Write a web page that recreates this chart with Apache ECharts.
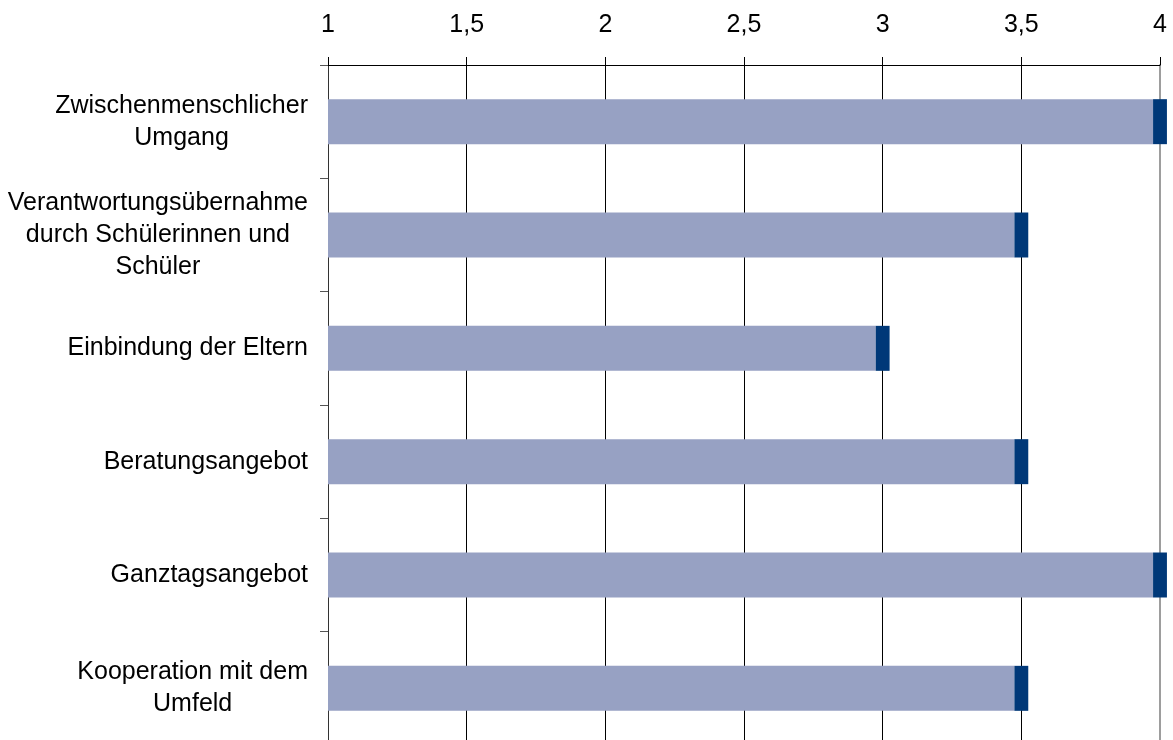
<!DOCTYPE html>
<html>
<head>
<meta charset="utf-8">
<script src="https://cdn.jsdelivr.net/npm/echarts@6/dist/echarts.min.js"></script>
<style>
  html, body { margin: 0; padding: 0; background: #fff; }
  #chart { width: 1173px; height: 740px; }
</style>
</head>
<body>
<div id="chart"></div>
<script>
// Survey areas (rows, top to bottom)
const categories = [
  'Zwischenmenschlicher\nUmgang',
  'Verantwortungsübernahme\ndurch Schülerinnen und\nSchüler',
  'Einbindung der Eltern',
  'Beratungsangebot',
  'Ganztagsangebot',
  'Kooperation mit dem\nUmfeld'
];

// Mean rating per area (scale 1 to 4)
const values = [4, 3.5, 3, 3.5, 4, 3.5];

// Scale ticks
const tickValues = [1, 1.5, 2, 2.5, 3, 3.5, 4];

// Half-width of the dark end marker, in scale units
const markerHalf = 0.025;

const FONT = '"Liberation Sans", Arial, sans-serif';
const FONT_SIZE = 25;

// Multi-line category labels: block right-aligned against the axis, lines centred within it
function catLabel(s) {
  return s.split('\n').map(l => '{c|' + l + '}').join('\n');
}

const chart = echarts.init(document.getElementById('chart'), null, { renderer: 'canvas' });

chart.setOption({
  animation: false,
  backgroundColor: '#fff',
  grid: {
    left: 328,
    top: 65,
    width: 832,
    height: 680,
    containLabel: false,
    outerBoundsMode: 'none'
  },
  xAxis: {
    type: 'value',
    position: 'top',
    min: tickValues[0],
    max: tickValues[tickValues.length - 1],
    interval: 0.5,
    axisLine: { show: true, lineStyle: { color: '#000', width: 1 } },
    axisTick: { show: true, length: 8, inside: false, lineStyle: { color: '#000', width: 1 } },
    axisLabel: {
      margin: 27,
      color: '#000',
      fontSize: FONT_SIZE,
      fontFamily: FONT,
      formatter: v => String(v).replace('.', ',')
    },
    splitLine: {
      show: true,
      lineStyle: {
        color: ['#000', '#000', '#000', '#000', '#000', '#000', 'rgba(0,0,0,0)'],
        width: 1
      }
    }
  },
  yAxis: [
    {
      type: 'category',
      data: categories,
      inverse: true,
      position: 'left',
      axisLine: { show: true, lineStyle: { color: '#333', width: 1 } },
      axisTick: { show: true, length: 8, inside: false, lineStyle: { color: '#555', width: 1 } },
      axisLabel: {
        margin: 20,
        color: '#000',
        fontSize: FONT_SIZE,
        fontFamily: FONT,
        align: 'right',
        formatter: catLabel,
        rich: {
          c: {
            align: 'center',
            fontSize: FONT_SIZE,
            fontFamily: FONT,
            color: '#000',
            lineHeight: 32
          }
        }
      },
      splitLine: { show: false }
    },
    {
      // right-hand frame line of the plot area
      type: 'category',
      data: categories,
      inverse: true,
      position: 'right',
      axisLine: { show: true, lineStyle: { color: '#9d9d9d', width: 2 } },
      axisTick: { show: false },
      axisLabel: { show: false },
      splitLine: { show: false }
    }
  ],
  series: [
    {
      name: 'Mittelwert',
      type: 'bar',
      stack: 'rating',
      yAxisIndex: 0,
      barWidth: 45,
      clip: true,
      itemStyle: { color: '#97a1c3' },
      data: values.map(v => v - markerHalf)
    },
    {
      name: 'Marker',
      type: 'bar',
      stack: 'rating',
      yAxisIndex: 0,
      barWidth: 45,
      clip: false,
      itemStyle: { color: '#003878' },
      data: values.map(() => 2 * markerHalf)
    }
  ]
});
</script>
</body>
</html>
